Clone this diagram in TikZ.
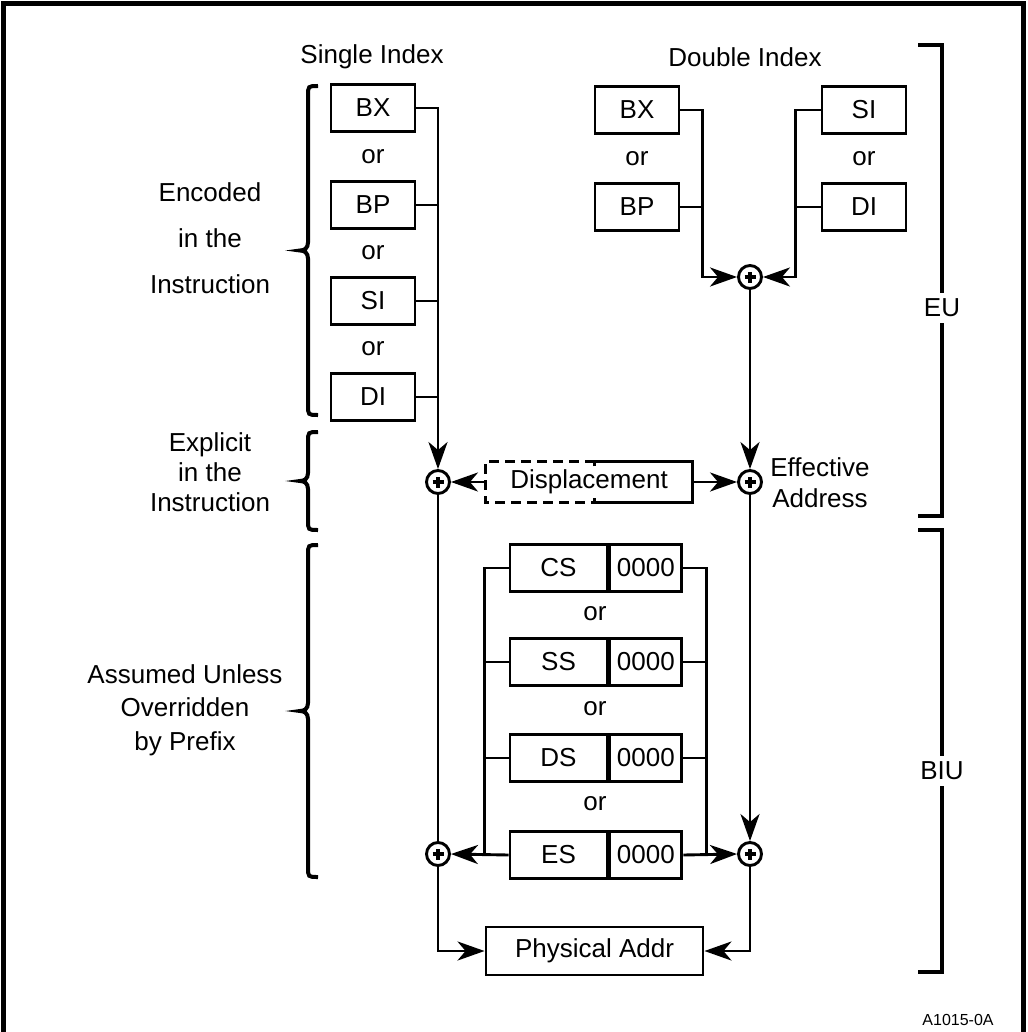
\documentclass[tikz,border=0pt]{standalone}
\usepackage{fontspec}
\setmainfont{Liberation Sans}
\usetikzlibrary{arrows.meta}
\begin{document}
\begin{tikzpicture}[x=1pt,y=-1pt,
  wire/.style={line width=2.9pt},
  arr/.style={wire,-{Stealth[length=27pt,width=19pt,inset=8pt]}},
  big/.style={font=\fontsize{26}{30}\selectfont},
  reg/.style={big,draw,line width=2.9pt,minimum height=47pt,inner sep=0pt},
  txt/.style={big,inner sep=0pt},
  sum/.style={circle,draw,fill=white,line width=2.9pt,minimum size=23pt,inner sep=0pt,
    path picture={\draw[line width=3.2pt]
      ([xshift=-5.5pt]path picture bounding box.center) -- ([xshift=5.5pt]path picture bounding box.center)
      ([yshift=-5.5pt]path picture bounding box.center) -- ([yshift=5.5pt]path picture bounding box.center);}},
  bracebar/.style={line width=4pt},
  bracket/.style={line width=3.4pt}
]
\useasboundingbox (0,0) rectangle (1027,1032);
% frame
\draw[line width=5pt] (3.5,1032) -- (3.5,3.5) -- (1023.5,3.5) -- (1023.5,1032);

% headings
\node[txt] (hsingle) at (372,57) {Single Index};
\node[txt] (hdouble) at (745,57) {Double Index};

% single index registers
\node[reg,minimum width=84pt] (sBX) at (373,108) {BX};
\node[txt] (sor1) at (373,157) {or};
\node[reg,minimum width=84pt] (sBP) at (373,205) {BP};
\node[txt] (sor2) at (373,253) {or};
\node[reg,minimum width=84pt] (sSI) at (373,301) {SI};
\node[txt] (sor3) at (373,349) {or};
\node[reg,minimum width=84pt] (sDI) at (373,397) {DI};

% double index registers
\node[reg,minimum width=84pt] (dBX) at (637,110) {BX};
\node[txt] (dor1) at (637,159) {or};
\node[reg,minimum width=84pt] (dBP) at (637,207) {BP};
\node[reg,minimum width=84pt] (dSI) at (864,110) {SI};
\node[txt] (dor2) at (864,159) {or};
\node[reg,minimum width=84pt] (dDI) at (864,207) {DI};

% adders
\node[sum] (pR0) at (750,277) {};
\node[sum] (pL1) at (438,482) {};
\node[sum] (pR1) at (750,482) {};
\node[sum] (pL2) at (438,854) {};
\node[sum] (pR2) at (750,854) {};

% displacement
\node[txt,minimum width=206pt,minimum height=41pt] (disp) at (589,482) {Displacement};
\draw[wire,dash pattern=on 10pt off 6pt] ([xshift=109pt]disp.north west) -| (disp.south west) -- ([xshift=109pt]disp.south west);
\draw[wire] ([xshift=109pt,yshift=-5pt]disp.north west) -- ([xshift=109pt]disp.north west) -| (disp.south east) -- ([xshift=109pt]disp.south west) -- ++(0,-5);

% segment registers
\foreach \s/\y in {CS/568,SS/662,DS/758,ES/855}{
  \node[reg,minimum width=97pt] (seg\s) at (558.5,\y) {\s};
  \node[reg,minimum width=72pt,anchor=west] (off\s) at (seg\s.east) {0000};
}
\node[txt] (gor1) at (595,614) {or};
\node[txt] (gor2) at (595,709) {or};
\node[txt] (gor3) at (595,804) {or};

% physical address
\node[reg,minimum width=217pt,minimum height=48pt] (phys) at (594.5,951) {Physical Addr};

% single index wiring
\draw[arr] (sBX.east) -| (pL1.north);
\draw[wire] (sBP.east) -- (sBP.east -| pL1);
\draw[wire] (sSI.east) -- (sSI.east -| pL1);
\draw[wire] (sDI.east) -- (sDI.east -| pL1);

% double index wiring
\draw[arr] (dBX.east) -- ++(22,0) |- (pR0.west);
\draw[wire] (dBP.east) -- ++(22,0);
\draw[arr] (dSI.west) -- ++(-25,0) |- (pR0.east);
\draw[wire] (dDI.west) -- ++(-25,0);
\draw[arr] (pR0.south) -- (pR1.north);

% displacement wiring
\draw[arr] (disp.west) -- (pL1.east);
\draw[arr] (disp.east) -- (pR1.west);

% down to segment adders
\draw[wire] (pL1.south) -- (pL2.north);
\draw[arr] (pR1.south) -- (pR2.north);

% segment wiring
\draw[wire] (segCS.west) -- ++(-24,0) -- ([xshift=-24pt]segES.west);
\draw[wire] (segSS.west) -- ++(-24,0);
\draw[wire] (segDS.west) -- ++(-24,0);
\draw[arr] (segES.west) -- (pL2.east);
\draw[wire] (offCS.east) -- ++(23,0) -- ([xshift=23pt]offES.east);
\draw[wire] (offSS.east) -- ++(23,0);
\draw[wire] (offDS.east) -- ++(23,0);
\draw[arr] (offES.east) -- (pR2.west);

% to physical address
\draw[arr] (pL2.south) |- (phys.west);
\draw[arr] (pR2.south) |- (phys.east);

% left labels and braces
\node[inner sep=0pt,align=center,font=\fontsize{26}{46}\selectfont] (lenc) at (210,238) {Encoded\\in the\\Instruction};
\node[inner sep=0pt,align=center,font=\fontsize{26}{30}\selectfont] (lexp) at (210,472) {Explicit\\in the\\Instruction};
\node[inner sep=0pt,align=center,font=\fontsize{26}{33.5}\selectfont] (lass) at (185,710) {Assumed Unless\\Overridden\\by Prefix};

\foreach \ya/\yb in {86/415,432/530,545/877}{
  \pgfmathsetmacro\ym{(\ya+\yb)/2}
  \draw[bracebar] (318,\ya) .. controls (308,\ya) and (308,\ya) .. (308,\ya+10)
     -- (308,\ym-8) .. controls (308,\ym-2) and (304,\ym) .. (300,\ym)
     .. controls (304,\ym) and (308,\ym+2) .. (308,\ym+8)
     -- (308,\yb-10) .. controls (308,\yb) and (308,\yb) .. (318,\yb);
}

% right labels
\node[big,inner sep=6pt] (eu) at (942,308) {EU};
\node[big,inner sep=6pt] (biu) at (942,771) {BIU};
\node[txt] (lea) at (820,467) {Effective};
\node[txt] (leb) at (820,498) {Address};
\draw[bracket] (918,45) -- (942,45) -- (eu.north);
\draw[bracket] (eu.south) -- (942,516) -- (918,516);
\draw[bracket] (918,530) -- (942,530) -- (biu.north);
\draw[bracket] (biu.south) -- (942,972) -- (918,972);

\node[font=\fontsize{16}{19}\selectfont,inner sep=0pt] (code) at (958,1020) {A1015-0A};
\end{tikzpicture}
\end{document}
